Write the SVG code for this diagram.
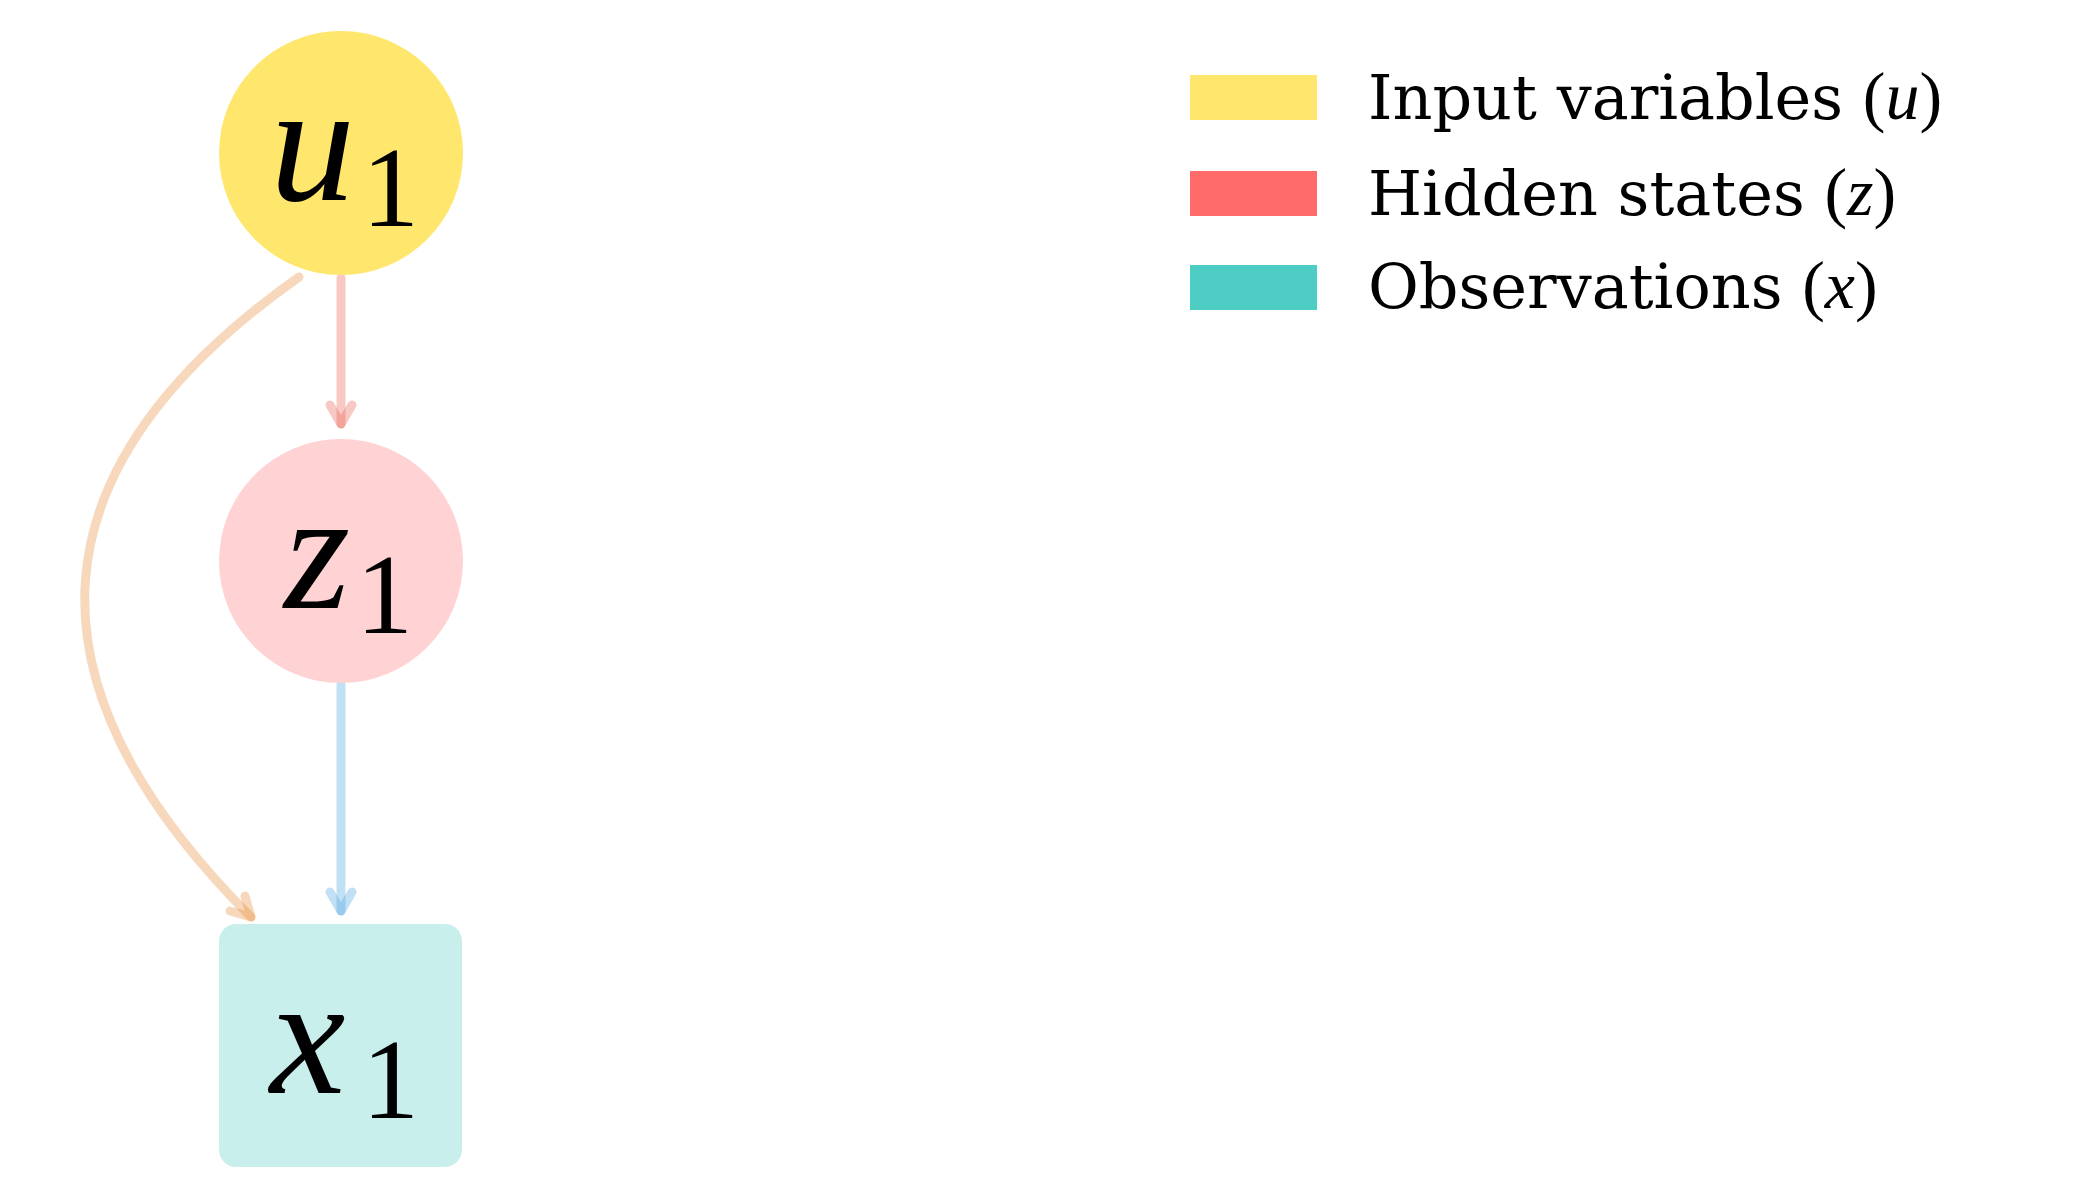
<svg xmlns="http://www.w3.org/2000/svg" width="2100" height="1200" viewBox="0 0 2100 1200">
<style>
.lbl{font-family:"Liberation Serif","Times New Roman",serif;fill:#000}
.it{font-style:italic}
.main{font-size:170px}
.sub{font-size:114px}
.leg{font-family:"DejaVu Serif",serif;font-size:62px;fill:#000}
.math{font-family:"Liberation Serif",serif;font-size:68px}
.edge{fill:none;stroke-width:9;stroke-linecap:round;stroke-linejoin:round;stroke-opacity:0.3}
.red{stroke:#E74C3C}
.org{stroke:#E67E22}
.blu{stroke:#3498DB}
</style>
<rect width="2100" height="1200" fill="#ffffff"/>
<g id="connectors">
  <path class="edge red" d="M341,278 L341,424"/>
  <path class="edge red" d="M330,405 L341,424 L352,405"/>
  <path class="edge blu" d="M341,684 L341,911"/>
  <path class="edge blu" d="M330,892 L341,911 L352,892"/>
  <path class="edge org" d="M299,277 Q-104,562 251,917"/>
  <path class="edge org" d="M230,911 L251,917 L245,896"/>
</g>
<g id="node-u1">
  <circle cx="341" cy="153" r="122" fill="#FFE66D"/>
  <text class="lbl main it" x="270" y="200">u</text>
  <text class="lbl sub" x="362" y="226">1</text>
</g>
<g id="node-z1">
  <circle cx="341" cy="561" r="122" fill="#FFD3D3"/>
  <text class="lbl main it" x="284" y="608">z</text>
  <text class="lbl sub" x="356" y="633">1</text>
</g>
<g id="node-x1">
  <rect x="219" y="924" width="243" height="243" rx="17" fill="#C8EFEC"/>
  <text class="lbl main it" x="270" y="1093">x</text>
  <text class="lbl sub" x="362" y="1118">1</text>
</g>
<g id="legend">
  <rect x="1190" y="75" width="127" height="45" fill="#FFE66D"/>
  <rect x="1190" y="171" width="127" height="45" fill="#FF6B6B"/>
  <rect x="1190" y="265" width="127" height="45" fill="#4ECDC4"/>
  <text class="leg" x="1368" y="119">Input variables <tspan class="math">(<tspan font-style="italic">u</tspan>)</tspan></text>
  <text class="leg" x="1368" y="215">Hidden states <tspan class="math">(<tspan font-style="italic">z</tspan>)</tspan></text>
  <text class="leg" x="1368" y="308">Observations <tspan class="math">(<tspan font-style="italic">x</tspan>)</tspan></text>
</g>
</svg>
